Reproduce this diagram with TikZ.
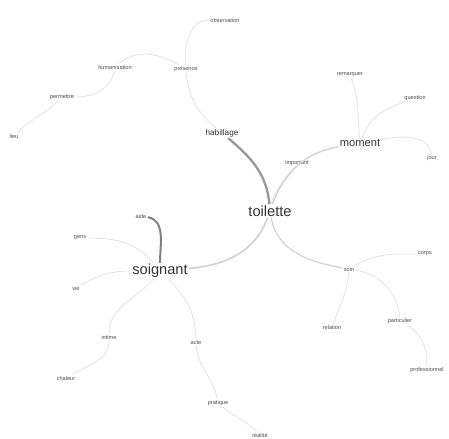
\documentclass[tikz,border=0pt]{standalone}
\usepackage{fontspec}
\setmainfont{Liberation Sans}
\begin{document}
\begin{tikzpicture}[x=0.03cm,y=0.03cm,
  big/.style={inner sep=1pt,text=black!80,font=\fontsize{12.5}{13}\selectfont},
  mid/.style={inner sep=1pt,text=black!80,font=\fontsize{9.5}{10}\selectfont},
  sub/.style={inner sep=1pt,text=black!80,font=\fontsize{7}{8}\selectfont},
  leaf/.style={inner sep=1pt,text=black!70,font=\fontsize{4.8}{5}\selectfont},
  link/.style={draw=black!12,line width=.6pt},
  strong/.style={draw=black!40,line width=2pt},
  medium/.style={draw=black!18,line width=1.2pt}]

\useasboundingbox (0,0) rectangle (449,438);

\node [big] at (270,227) (toilette) {toilette};
\node [big] at (160,167) (soignant) {soignant};
\node [mid] at (360,295) (moment) {moment};
\node [sub] at (222,305) (habillage) {habillage};

\node [leaf] at (186,369) (presence) {présence};
\node [leaf] at (225,418) (observation) {observation};
\node [leaf] at (115,371) (humanisation) {humanisation};
\node [leaf] at (62,341) (permettre) {permettre};
\node [leaf] at (14,302) (lieu) {lieu};
\node [leaf] at (297,275) (important) {important};
\node [leaf] at (350,363) (remarquer) {remarquer};
\node [leaf] at (415,340) (question) {question};
\node [leaf] at (432,280) (jour) {jour};
\node [leaf] at (141,222) (aide) {aide};
\node [leaf] at (80,200) (gens) {gens};
\node [leaf] at (76,150) (vie) {vie};
\node [leaf] at (109,101) (intime) {intime};
\node [leaf] at (66,60) (chaleur) {chaleur};
\node [leaf] at (196,95) (acte) {acte};
\node [leaf] at (218,35) (pratique) {pratique};
\node [leaf] at (260,3) (realite) {réalité};
\node [leaf] at (425,184) (corps) {corps};
\node [leaf] at (349,169) (soin) {soin};
\node [leaf] at (332,111) (relation) {relation};
\node [leaf] at (400,117) (particulier) {particulier};
\node [leaf] at (427,68) (professionnel) {professionnel};

\draw [strong] (toilette) to[out=95,in=-40] (habillage);
\draw [link] (presence) to[out=-85,in=140] (habillage);
\draw [link] (presence) to[out=95,in=180] (observation);
\draw [link] (humanisation) to[out=40,in=150] (presence);
\draw [link] (humanisation) to[out=-100,in=0] (permettre);
\draw [link] (permettre) to[out=-135,in=45] (lieu);
\draw [link] (toilette) to[out=80,in=-120] (important);
\draw [medium] (toilette) to[out=70,in=190] (moment);
\draw [link] (moment) to[out=95,in=-70] (remarquer);
\draw [link] (moment) to[out=70,in=200] (question);
\draw [link] (moment) to[out=10,in=100] (jour);
\draw [medium,line width=1.4pt] (toilette) to[out=-110,in=5] (soignant);
\draw [medium,line width=1pt] (toilette) to[out=-80,in=170] (soin);
\draw [link] (soin) to[out=30,in=180] (corps);
\draw [link] (soin) to[out=-95,in=70] (relation);
\draw [link] (soin) to[out=-10,in=95] (particulier);
\draw [link] (particulier) to[out=-30,in=90] (professionnel);
\draw [strong,draw=black!50,line width=1.7pt] (soignant) to[out=90,in=-10] (aide);
\draw [link] (soignant) to[out=130,in=0] (gens);
\draw [link] (soignant) to[out=180,in=30] (vie);
\draw [link] (soignant) to[out=-130,in=90] (intime);
\draw [link] (intime) to[out=-90,in=30] (chaleur);
\draw [link] (soignant) to[out=-45,in=90] (acte);
\draw [link] (acte) to[out=-85,in=100] (pratique);
\draw [link] (pratique) to[out=-40,in=135] (realite);

\end{tikzpicture}
\end{document}
